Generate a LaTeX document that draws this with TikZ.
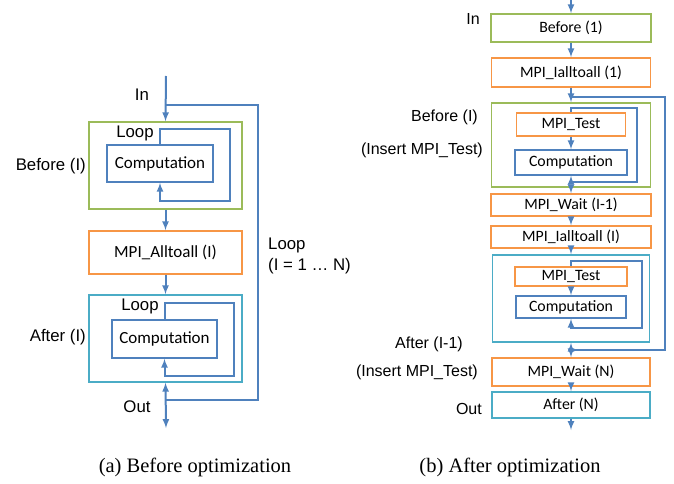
\documentclass[tikz,border=0pt]{standalone}
\usepackage{fontspec}
\setmainfont{Liberation Serif}
\setsansfont{Liberation Sans}
\newfontfamily\boxfont{Carlito}

\definecolor{cgreen}{HTML}{9BBB59}
\definecolor{corange}{HTML}{F79646}
\definecolor{ccyan}{HTML}{4BACC6}
\definecolor{cblue}{HTML}{4F81BD}

\tikzset{
	box/.style={draw, line width=1.5pt, inner sep=0pt, font=\boxfont\fontsize{15.8}{18}\selectfont},
	bigtext/.style={font=\boxfont\fontsize{17}{19}\selectfont},
	gbox/.style={box, draw=cgreen},
	obox/.style={box, draw=corange},
	cbox/.style={box, draw=ccyan},
	bbox/.style={box, draw=cblue},
	flow/.style={draw=cblue, line width=2pt},
	lbl/.style={draw=none, inner sep=0pt, font=\sffamily\fontsize{16}{21}\selectfont},
	biglbl/.style={lbl, font=\sffamily\fontsize{16.8}{21}\selectfont},
	capt/.style={draw=none, inner sep=0pt, font=\rmfamily\fontsize{20.5}{22}\selectfont}
}

\begin{document}
\begin{tikzpicture}[x=1pt, y=-1pt]
\useasboundingbox (0,0) rectangle (674,484);

% (a) before optimization
\node[gbox, minimum width=153, minimum height=87] (befA) at (165.5,165.5) {};
\node[bbox, bigtext, minimum width=106, minimum height=37] (compA) at (160,163.5) {Computation};
\node[obox, bigtext, minimum width=153, minimum height=43] (allA) at (165.5,252.5) {MPI\_Alltoall (I)};
\node[cbox, minimum width=153, minimum height=87] (aftA) at (165.5,338.5) {};
\node[bbox, bigtext, minimum width=105, minimum height=38] (compB) at (164.5,339) {Computation};

\coordinate (inA) at (166,76);
\coordinate (outA) at (166,428);

\path (142,95) node[biglbl] (lblInA) {In};
\path (135,133) node[biglbl] (lblLoopA) {Loop};
\path (140,306) node[biglbl] (lblLoopB) {Loop};
\path (86,166) node[biglbl, anchor=east] (lblBefA) {Before (I)};
\path (86,337) node[biglbl, anchor=east] (lblAftA) {After (I)};
\path (137,407) node[biglbl] (lblOutA) {Out};
\path (268,255.5) node[biglbl, anchor=west, align=left] (lblLoopN) {Loop\\(I = 1 … N)};

\draw[flow, -latex] (inA) -- (befA.north);
\draw[flow, -latex] (befA.south) -- (allA.north);
\draw[flow, -latex] (allA.south) -- (aftA.north);
\draw[flow, latex-latex] (aftA.south) -- (outA);
\draw[flow] (166,105) -| (258,400) -- (166,400);

\draw[flow, -latex] (compA.north) -- (160,129) -| (230,201) -| (compA.south);
\draw[flow, -latex] (compB.north) -- (164.5,303) -| (234,376) -| (compB.south);

% (b) after optimization
\node[gbox, minimum width=160, minimum height=28] (bef1) at (571,28) {Before (1)};
\node[obox, minimum width=159, minimum height=29] (iall1) at (571,72.5) {MPI\_Ialltoall (1)};
\node[gbox, minimum width=159, minimum height=84] (befR) at (571,145) {};
\node[obox, minimum width=109, minimum height=23] (testA) at (571,124.5) {MPI\_Test};
\node[bbox, minimum width=112, minimum height=25] (compC) at (571,162.5) {Computation};
\node[obox, minimum width=160, minimum height=22] (wait1) at (571,205) {MPI\_Wait (I-1)};
\node[obox, minimum width=160, minimum height=22] (iall2) at (571,237) {MPI\_Ialltoall (I)};
\node[cbox, minimum width=157, minimum height=87] (aftR) at (571,298.5) {};
\node[obox, minimum width=112, minimum height=19] (testB) at (571,276.5) {MPI\_Test};
\node[bbox, minimum width=110, minimum height=22] (compD) at (571,307) {Computation};
\node[obox, minimum width=158, minimum height=28] (waitN) at (571,372) {MPI\_Wait (N)};
\node[cbox, minimum width=158, minimum height=26] (aftN) at (571,405) {After (N)};

\coordinate (inB) at (571,0);
\coordinate (outB) at (571,430);

\path (473,19) node[lbl] (lblInB) {In};
\path (478,117) node[lbl, anchor=east] (lblBefB) {Before (I)};
\path (483,150) node[lbl, anchor=east] (lblInsA) {(Insert MPI\_Test)};
\path (463,344) node[lbl, anchor=east] (lblAftB) {After (I-1)};
\path (478,372) node[lbl, anchor=east] (lblInsB) {(Insert MPI\_Test)};
\path (482,409) node[lbl, anchor=east] (lblOutB) {Out};

\draw[flow, -latex] (inB) -- (bef1.north);
\draw[flow, -latex] (bef1.south) -- (iall1.north);
\draw[flow, -latex] (iall1.south) -- (befR.north);
\draw[flow, -latex] (testA.south) -- (compC.north);
\draw[flow, -latex] (befR.south) -- (wait1.north);
\draw[flow, -latex] (wait1.south) -- (iall2.north);
\draw[flow, -latex] (iall2.south) -- (aftR.north);
\draw[flow, -latex] (testB.south) -- (compD.north);
\draw[flow, latex-latex] (aftR.south) -- (waitN.north);
\draw[flow, -latex] (waitN.south) -- (aftN.north);
\draw[flow, -latex] (aftN.south) -- (outB);
\draw[flow] (571,97) -| (665,350) -- (571,350);

\draw[flow, -latex] (testA.north) -- (571,108) -| (637,182) -| (compC.south);
\draw[flow, -latex] (testB.north) -- (571,261) -| (642,328) -| (compD.south);

% captions
\path (195,467) node[capt] (captA) {(a) Before optimization};
\path (510,467) node[capt] (captB) {(b) After optimization};

\end{tikzpicture}
\end{document}
